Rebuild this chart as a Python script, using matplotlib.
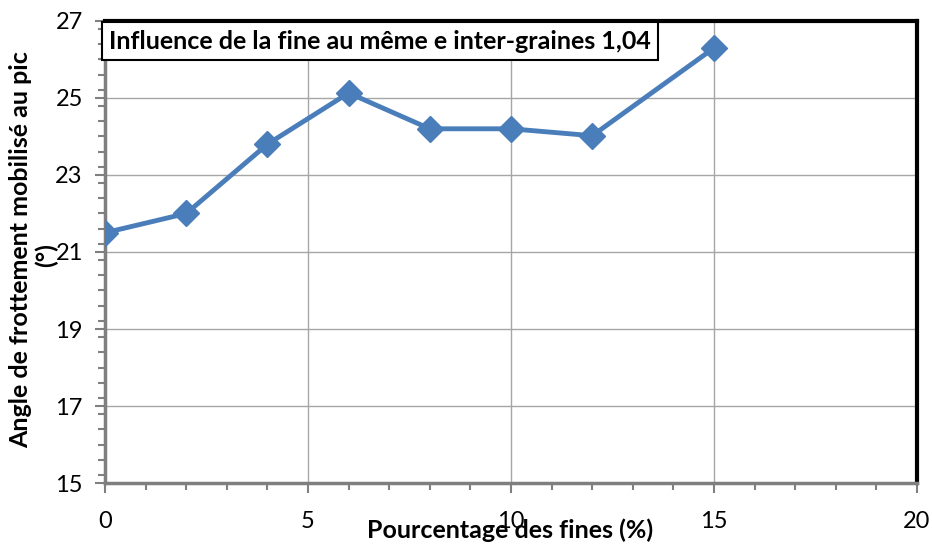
import matplotlib.pyplot as plt
from matplotlib.ticker import MultipleLocator

# Données : pourcentage de fines et angle de frottement au pic
fines = [0, 2, 4, 6, 8, 10, 12, 15]
angle = [21.5, 22.0, 23.8, 25.13, 24.2, 24.2, 24.02, 26.3]

x_ticks = [0, 5, 10, 15, 20]
y_ticks = [15, 17, 19, 21, 23, 25, 27]

plt.rcParams['font.family'] = ['Lato', 'DejaVu Sans']

fig = plt.figure(figsize=(9.32, 5.48), dpi=100)
ax = fig.add_axes([0.1127, 0.1186, 0.8712, 0.8431])

ax.plot(fines, angle, color='#4a7ebb', linewidth=3.5, marker='D',
        markersize=13, markerfacecolor='#4a7ebb', markeredgecolor='#4a7ebb',
        zorder=3)

ax.set_xlim(0, 20)
ax.set_ylim(15, 27)
ax.set_xticks(x_ticks)
ax.set_yticks(y_ticks)
ax.xaxis.set_minor_locator(MultipleLocator(1))
ax.yaxis.set_minor_locator(MultipleLocator(0.4))
ax.grid(True, which='major', color='#a6a6a6', linewidth=1)

ax.tick_params(which='both', direction='out', color='#808080', width=1.5)
ax.tick_params(which='major', length=7, labelsize=17)
ax.tick_params(axis='y', which='major', pad=9)
ax.tick_params(axis='x', which='major', pad=13)
ax.tick_params(which='minor', length=5)

# cadre : gris à gauche / en bas, noir en haut / à droite
for s in ['left', 'bottom']:
    ax.spines[s].set_color('#7f7f7f')
    ax.spines[s].set_linewidth(2.5)
for s in ['top', 'right']:
    ax.spines[s].set_color('black')
    ax.spines[s].set_linewidth(3)

ax.text(0.1, 26.48, "Influence de la fine au même e inter-graines 1,04",
        fontsize=18, fontweight='bold', va='center', ha='left', zorder=4,
        bbox=dict(boxstyle='square,pad=0.3', facecolor='white',
                  edgecolor='black', linewidth=1.5))

fig.text(0.547, 0.032, "Pourcentage des fines (%)", fontsize=18,
         fontweight='bold', ha='center', va='center')
fig.text(0.022, 0.545, "Angle de frottement mobilisé au pic", fontsize=18,
         fontweight='bold', rotation=90, ha='center', va='center')
fig.text(0.05, 0.535, "(°)", fontsize=18, fontweight='bold',
         rotation=90, ha='center', va='center')

fig.savefig('out.png', dpi=100)
